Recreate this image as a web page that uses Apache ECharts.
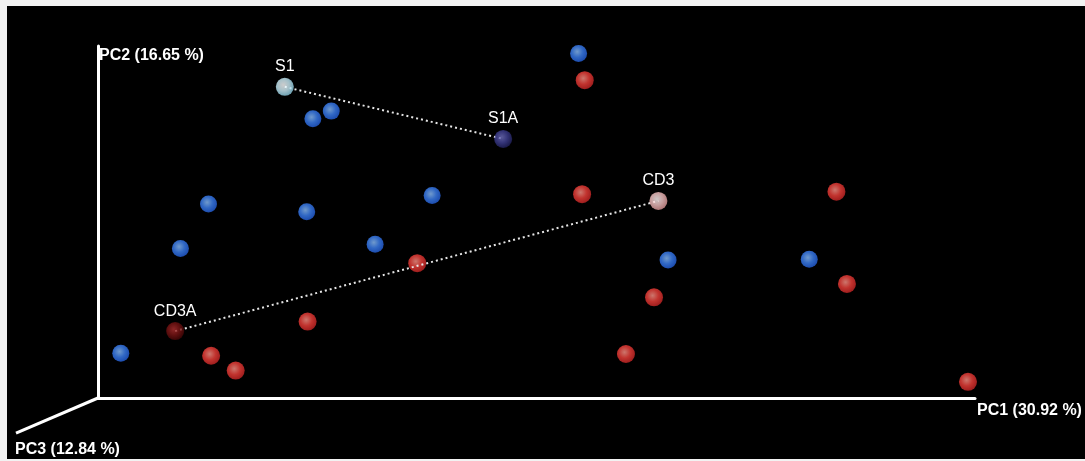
<!DOCTYPE html>
<html>
<head>
<meta charset="utf-8">
<script src="https://cdn.jsdelivr.net/npm/echarts@6/dist/echarts.min.js"></script>
<style>
  html, body { margin: 0; padding: 0; background: #f2f2f2; width: 1085px; height: 461px; overflow: hidden; }
  #chart { position: absolute; left: 7px; top: 6px; width: 1078px; height: 453px; }
</style>
</head>
<body>
<div id="chart"></div>
<script>
// Axis titles
const axisNames = ['PC1 (30.92 %)', 'PC2 (16.65 %)', 'PC3 (12.84 %)'];
// PC3 axis end in projected (PC1, PC2) units
const pc3End = [-9.35, -10.0];

// Group A (blue) samples, projected [PC1, PC2]
const blueSamples = [
  [54.8, 97.9], [24.5, 79.3], [26.6, 81.5], [12.6, 55.1], [23.8, 52.9],
  [38.1, 57.5], [9.4, 42.5], [31.6, 43.7], [65.0, 39.2], [81.1, 39.4],
  [2.6, 12.7]
];
// Group B (red) samples, projected [PC1, PC2]
const redSamples = [
  [55.5, 90.3], [55.2, 57.9], [84.2, 58.6], [36.4, 38.3], [63.4, 28.6],
  [85.4, 32.4], [23.9, 21.7], [12.9, 12.0], [15.7, 7.8], [60.2, 12.5],
  [99.2, 4.6]
];
// Labelled paired samples
const labelNames = ['S1', 'S1A', 'CD3', 'CD3A'];
const labelValues = [[21.3, 88.4], [46.2, 73.6], [63.9, 56.0], [8.8, 19.0]];
const pairs = [['S1', 'S1A'], ['CD3A', 'CD3']];

const FONT = "'Liberation Sans', Helvetica, Arial, sans-serif";

function sphere(c0, c1, c2) {
  return {
    type: 'radial', x: 0.42, y: 0.4, r: 0.6,
    colorStops: [
      { offset: 0, color: c0 },
      { offset: 0.55, color: c1 },
      { offset: 1, color: c2 }
    ]
  };
}
const labelStyles = {
  'S1':   sphere('#ffffff', '#cdf0fb', '#8ccbe0'),
  'S1A':  sphere('#7070c0', '#404094', '#22225e'),
  'CD3':  sphere('#fff6f6', '#f8c6c6', '#da9696'),
  'CD3A': sphere('#b03030', '#7a1414', '#480707')
};

const lookup = {};
labelNames.forEach((n, i) => lookup[n] = labelValues[i]);

const series = [
  {
    type: 'scatter', name: 'blue', data: blueSamples, symbolSize: 17, z: 3,
    itemStyle: { color: sphere('#8cc0ff', '#3d82f6', '#2460da') }
  },
  {
    type: 'scatter', name: 'red', data: redSamples, symbolSize: 18, z: 3,
    itemStyle: { color: sphere('#ff9488', '#f2403a', '#c82626') }
  }
];
pairs.forEach(p => {
  series.push({
    type: 'line', data: [lookup[p[0]], lookup[p[1]]], symbol: 'none', z: 4,
    lineStyle: { color: '#e6e6e6', width: 2, type: [2, 3] }, silent: true
  });
});
series.push({
  type: 'scatter', name: 'labelled', z: 5, symbolSize: 18,
  data: labelNames.map((n, i) => ({
    name: n, value: labelValues[i], itemStyle: { color: labelStyles[n] }
  })),
  label: {
    show: true, position: 'top', distance: 3, formatter: '{b}',
    color: '#ffffff', opacity: 1, fontSize: 16, fontFamily: FONT
  },
  emphasis: { disabled: true }
});
// PC3 axis (projected 3D axis) and its title
series.push({
  type: 'custom', data: [pc3End], clip: false, silent: true, z: 2,
  renderItem: function (params, api) {
    const o = api.coord([0, 0]);
    const e = api.coord([api.value(0), api.value(1)]);
    return {
      type: 'group',
      children: [
        { type: 'line', shape: { x1: o[0], y1: o[1], x2: e[0], y2: e[1] },
          style: { stroke: '#ffffff', lineWidth: 3 } },
        { type: 'text', x: e[0] - 1, y: e[1] + 8,
          style: { text: axisNames[2], fill: '#ffffff', font: 'bold 16px ' + FONT,
                   align: 'left', verticalAlign: 'top', textAlign: 'left', textVerticalAlign: 'top' } }
      ]
    };
  }
});

const chart = echarts.init(document.getElementById('chart'));
chart.setOption({
  backgroundColor: '#000000',
  animation: false,
  grid: { left: 91, top: 40, width: 877, height: 352 },
  xAxis: {
    type: 'value', min: 0, max: 100,
    name: axisNames[0], nameLocation: 'end', nameGap: 2,
    nameTextStyle: { color: '#ffffff', fontSize: 16, fontWeight: 'bold', fontFamily: FONT,
      align: 'left', verticalAlign: 'top', padding: [5, 0, 0, 0] },
    axisLine: { show: true, onZero: false, lineStyle: { color: '#ffffff', width: 3 } },
    axisTick: { show: false }, axisLabel: { show: false }, splitLine: { show: false }
  },
  yAxis: {
    type: 'value', min: 0, max: 100,
    name: axisNames[1], nameLocation: 'end', nameGap: -2,
    nameTextStyle: { color: '#ffffff', fontSize: 16, fontWeight: 'bold', fontFamily: FONT,
      align: 'left', verticalAlign: 'top', padding: [0, 0, 0, 1] },
    axisLine: { show: true, onZero: false, lineStyle: { color: '#ffffff', width: 3 } },
    axisTick: { show: false }, axisLabel: { show: false }, splitLine: { show: false }
  },
  series: series
});
</script>
</body>
</html>
